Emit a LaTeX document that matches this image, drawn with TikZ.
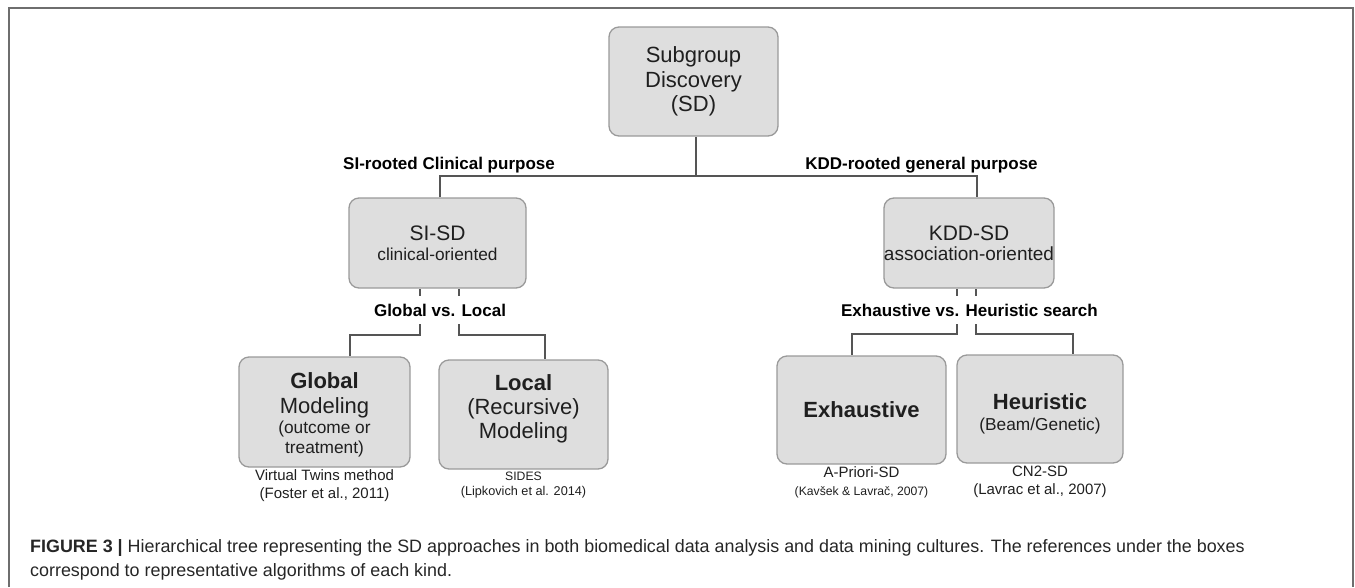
\documentclass[tikz,border=0pt]{standalone}
\usepackage{fontspec}
\setmainfont{Liberation Sans}
\usetikzlibrary{positioning,calc}
\definecolor{boxfill}{HTML}{DEDEDE}
\definecolor{boxline}{HTML}{9A9A9A}
\definecolor{treeline}{HTML}{555555}
\definecolor{framegray}{HTML}{6E6E6E}
\newcommand\sdbig{\fontsize{22}{24.5}\selectfont}
\newcommand\sdmid{\fontsize{17.3}{20}\selectfont}
\newcommand\sdlab{\bfseries\fontsize{17}{20}\selectfont}
\newcommand\sdref{\fontsize{15}{18}\selectfont}
\newcommand\sdtiny{\fontsize{12.2}{15}\selectfont}
\newcommand\sdcap{\fontsize{17.9}{24}\selectfont}
\tikzset{
diagram/.style={x=1pt,y=-1pt},
approach/.style={draw=boxline,fill=boxfill,line width=1.3pt,rounded corners=10pt,
align=center,inner sep=0pt,minimum width=169pt,minimum height=109pt,text=black!88},
branch/.style={draw=treeline,line width=2pt},
split/.style={font=\sdlab,inner xsep=0pt,inner ysep=7.8pt,text=black},
ref/.style={align=center,inner sep=0pt,text=black!88,font=\sdref},
}

\begin{document}
\begin{tikzpicture}[diagram]
\useasboundingbox (0,0) rectangle (1355,587);
\draw[framegray,line width=1.5pt] (9,587) -- (9,8) -- (1353,8) -- (1353,587);

% boxes
\node[approach,font=\sdbig] (sd) at (693.5,81.5) {Subgroup\\Discovery\\(SD)};
\node[approach,minimum width=177pt,minimum height=90pt,font=\fontsize{21}{20}\selectfont]
    (sisd) at (437.5,243) {SI-SD\\{\sdmid clinical-oriented}};
\node[approach,minimum width=170pt,minimum height=90pt,font=\fontsize{21}{20}\selectfont]
    (kddsd) at (969,243) {KDD-SD\\{\fontsize{19}{20}\selectfont association-oriented}};
\node[approach,minimum width=171pt,minimum height=110pt,font=\fontsize{22}{20}\selectfont,
    label={[ref,name=globref,label distance=2pt]below:{Virtual Twins method\\(Foster et al., 2011)}}]
    (glob) at (324.5,412) {\rule{0pt}{22pt}\textbf{Global}\\[5pt]Modeling\\{\sdmid (outcome or}\\{\sdmid treatment)}};
\node[approach,font=\fontsize{22}{24}\selectfont,
    label={[ref,name=locref,label distance=2pt]below:{{\sdtiny SIDES}\\[-3pt]{\fontsize{12.7}{15}\selectfont (Lipkovich et al. 2014)}}}]
    (loc) at (523.5,414.5) {\textbf{Local}\\(Recursive)\\Modeling\rule[-15pt]{0pt}{15pt}};
\node[approach,minimum height=108pt,font=\fontsize{22}{24}\selectfont,
    label={[ref,name=exhref,label distance=2pt]below:{A-Priori-SD\\{\sdtiny (Kavšek \& Lavrač, 2007)}}}]
    (exh) at (861.5,410) {\textbf{Exhaustive}};
\node[approach,minimum width=166pt,minimum height=108pt,font=\fontsize{22}{21}\selectfont,
    label={[ref,name=heurref,label distance=2pt]below:{CN2-SD\\(Lavrac et al., 2007)}}]
    (heur) at (1040,409) {\rule{0pt}{26pt}\textbf{Heuristic}\\{\sdmid (Beam/Genetic)}};

% branch labels
\node[split,anchor=base] (sipurp) at (449,169.5) {SI-rooted Clinical purpose};
\node[split,anchor=base] (kddpurp) at (921.5,169.5) {KDD-rooted general purpose};
\node[split] (glvl) at (440,310) {Global vs. Local};
\node[split] (exvh) at (969.5,310) {Exhaustive vs. Heuristic search};

% tree
\coordinate (bus) at (696,176);
\draw[branch] (bus) -- ([xshift=2.5]sd.south);
\draw[branch] ([xshift=2.5]sisd.north) |- (bus) -| ([xshift=8]kddsd.north);

\draw[branch] ([xshift=-20]glvl.north) -- ([xshift=-20]glvl.north |- sisd.south);
\draw[branch] ([xshift=19]glvl.north) -- ([xshift=19]glvl.north |- sisd.south);
\draw[branch] ([xshift=-20]glvl.south) -- ++(0,11) -| ([xshift=25.5]glob.north);
\draw[branch] ([xshift=19]glvl.south) -- ++(0,11) -| ([xshift=21.5]loc.north);

\draw[branch] ([xshift=-12.5]exvh.north) -- ([xshift=-12.5]exvh.north |- kddsd.south);
\draw[branch] ([xshift=6.5]exvh.north) -- ([xshift=6.5]exvh.north |- kddsd.south);
\draw[branch] ([xshift=-12.5]exvh.south) -- ++(0,10) -| ([xshift=-9.5]exh.north);
\draw[branch] ([xshift=6.5]exvh.south) -- ++(0,10) -| ([xshift=33]heur.north);

% caption
\node[anchor=north west,align=left,font=\sdcap,inner sep=0pt,text=black!85] (caption) at (30,539)
    {\textbf{FIGURE 3 |} Hierarchical tree representing the SD approaches in both biomedical data analysis and data mining cultures. The references under the boxes\\
     correspond to representative algorithms of each kind.};
\end{tikzpicture}
\end{document}
